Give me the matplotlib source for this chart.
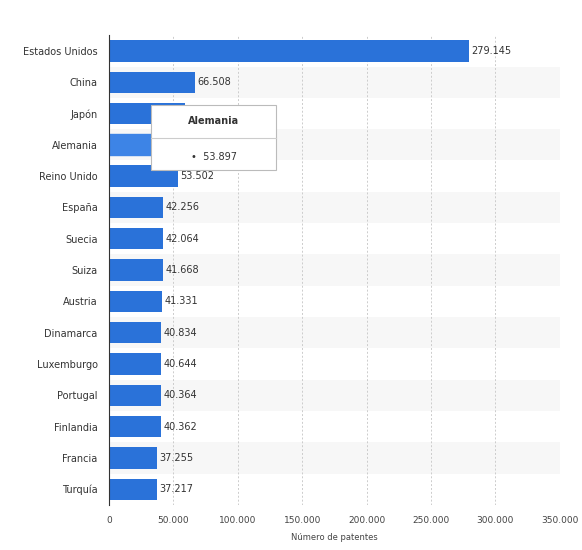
import matplotlib.pyplot as plt
from matplotlib.patches import Rectangle

countries = ["Estados Unidos","China","Japón","Alemania","Reino Unido","España","Suecia","Suiza","Austria","Dinamarca","Luxemburgo","Portugal","Finlandia","Francia","Turquía"]
values = [279145,66508,58900,53897,53502,42256,42064,41668,41331,40834,40644,40364,40362,37255,37217]
labels = ["279.145","66.508","58.900","53.897","53.502","42.256","42.064","41.668","41.331","40.834","40.644","40.364","40.362","37.255","37.217"]
ticks = [0,50000,100000,150000,200000,250000,300000,350000]
ticklabels = ["0","50.000","100.000","150.000","200.000","250.000","300.000","350.000"]

fig = plt.figure(figsize=(5.82,5.5), dpi=100)
ax = fig.add_axes([0.187,0.082,0.775,0.854])
n = len(countries)
ys = list(range(n))
for i in ys:
    if i % 2 == 1:
        ax.axhspan(i-0.5, i+0.5, color="#f7f7f7", zorder=0, lw=0)
bars = ax.barh(ys, values, height=0.68, color="#2a72d9", zorder=2)
bars[3].set_color("#3d84e6")
for y, v, l in zip(ys, values, labels):
    if y in (2, 3):
        continue
    ax.text(v+2000, y, l, va="center", ha="left", fontsize=7, color="#333333", zorder=3)
ax.set_ylim(n-0.5, -0.5)
ax.set_xlim(0, 350000)
ax.set_yticks(ys)
ax.set_yticklabels(countries, fontsize=7, color="#333333")
ax.set_xticks(ticks)
ax.set_xticklabels(ticklabels, fontsize=6.5, color="#444444")
ax.tick_params(length=0, pad=8)
ax.grid(axis="x", color="#cccccc", linestyle=(0,(2,2)), lw=0.7, zorder=1)
for s in ["top","right","bottom"]:
    ax.spines[s].set_visible(False)
ax.spines["left"].set_color("#333333")
ax.set_xlabel("Número de patentes", fontsize=6, color="#444444", labelpad=6)

# tooltip
tx0, ty0, tw, th = 151/582, 1-170/550, 125/582, 65/550
fig.patches.append(Rectangle((tx0, ty0), tw, th, transform=fig.transFigure, facecolor="white", edgecolor="#bbbbbb", lw=0.8, zorder=10))
fig.add_artist(plt.Line2D([tx0, tx0+tw], [1-138/550]*2, transform=fig.transFigure, color="#cccccc", lw=0.8, zorder=11))
fig.text(tx0+tw/2, 1-121/550, "Alemania", ha="center", va="center", fontsize=7, fontweight="bold", color="#333333", zorder=12)
fig.text(tx0+tw/2, 1-157/550, "•  53.897", ha="center", va="center", fontsize=7, color="#333333", zorder=12)
fig.savefig("out.png", dpi=100)
